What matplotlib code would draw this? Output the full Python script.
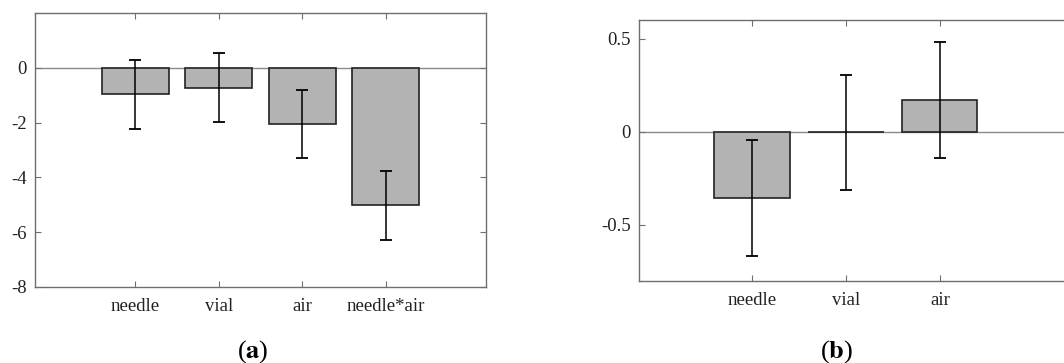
import numpy as np
import matplotlib.pyplot as plt

plt.rcParams['font.family'] = 'serif'
plt.rcParams['font.serif'] = ['Liberation Serif', 'DejaVu Serif']
plt.rcParams['mathtext.fontset'] = 'stix'

# (a) main effects + interaction
labels_a = ['needle', 'vial', 'air', 'needle*air']
values_a = [-0.97, -0.72, -2.06, -5.02]
errors_a = [1.25, 1.26, 1.25, 1.26]

# (b)
labels_b = ['needle', 'vial', 'air']
values_b = [-0.355, -0.004, 0.172]
errors_b = [0.311, 0.311, 0.311]

bar_color = '#b3b3b3'
axis_color = '#6e6e6e'


def bar_panel(ax, labels, values, errors, yticks, ylim, xlim):
    x = np.arange(1, len(labels) + 1)
    ax.bar(x, values, width=0.8, color=bar_color, edgecolor='#222222',
           linewidth=1.2, zorder=2)
    ax.errorbar(x, values, yerr=errors, fmt='none', ecolor='black',
                elinewidth=1.1, capsize=4, capthick=1.3, zorder=3)
    ax.axhline(0, color='#8a8a8a', linewidth=1.0, zorder=1)
    ax.set_xlim(*xlim)
    ax.set_ylim(*ylim)
    ax.set_xticks(x)
    ax.set_xticklabels(labels)
    ax.set_yticks(yticks)
    ax.set_yticklabels([('%g' % t) for t in yticks])
    ax.tick_params(direction='in', top=True, right=True, length=4,
                   width=0.8, color=axis_color, labelsize=13.5,
                   labelcolor='#222222', pad=6)
    ax.tick_params(axis='x', pad=8)
    for s in ax.spines.values():
        s.set_color(axis_color)
        s.set_linewidth(1.0)


fig = plt.figure(figsize=(10.64, 3.63), dpi=100)

ax1 = fig.add_axes([0.0329, 0.2094, 0.4239, 0.7548])
bar_panel(ax1, labels_a, values_a, errors_a, [0, -2, -4, -6, -8],
          (-8, 2), (-0.2, 5.2))

ax2 = fig.add_axes([0.6009, 0.2267, 0.406, 0.7182])
bar_panel(ax2, labels_b, values_b, errors_b, [0.5, 0, -0.5],
          (-0.8, 0.6), (-0.2, 4.4))

fig.text(0.238, 0.015, r'($\mathbf{a}$)', ha='center', fontsize=19)
fig.text(0.786, 0.015, r'($\mathbf{b}$)', ha='center', fontsize=19)

fig.savefig('out.png', dpi=100)
